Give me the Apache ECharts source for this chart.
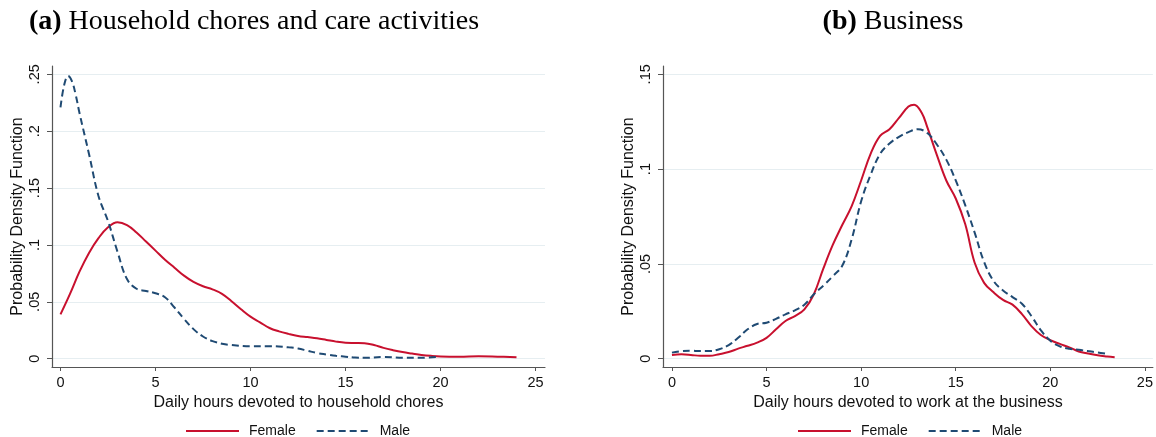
<!DOCTYPE html>
<html>
<head>
<meta charset="utf-8">
<script src="https://cdn.jsdelivr.net/npm/echarts@6/dist/echarts.min.js"></script>
<style>
html,body{margin:0;padding:0;background:#fff;}
#chart{width:1156px;height:437px;}
</style>
</head>
<body>
<div id="chart"></div>
<script>
// ---- Data ----
const titleA = "Household chores and care activities";
const titleB = "Business";
const xNameA = "Daily hours devoted to household chores";
const xNameB = "Daily hours devoted to work at the business";
const yName = "Probability Density Function";
const seriesNames = ["Female", "Male"];
const xTicks = [0, 5, 10, 15, 20, 25];
const yTicksA = [0, 0.05, 0.1, 0.15, 0.2, 0.25];
const yTicksB = [0, 0.05, 0.1, 0.15];

// Panel (a): household chores, [hours, density]
const choresFemale = [[0,0.039],[0.5,0.057],[1,0.0765],[1.5,0.093],[2,0.106],[2.5,0.1155],[3,0.120],[3.5,0.1175],[4,0.111],[4.5,0.103],[5,0.095],[5.5,0.087],[6,0.080],[6.5,0.073],[7,0.0675],[7.5,0.0637],[8,0.061],[8.5,0.057],[9,0.0505],[9.5,0.0435],[10,0.037],[10.5,0.032],[11,0.027],[11.5,0.024],[12,0.0218],[12.5,0.020],[13,0.019],[13.5,0.018],[14,0.0165],[14.5,0.015],[15,0.014],[15.5,0.0138],[16,0.0136],[16.5,0.012],[17,0.0095],[17.5,0.0075],[18,0.0058],[18.5,0.0045],[19,0.0033],[19.5,0.0025],[20,0.002],[21,0.0018],[22,0.0022],[23,0.0018],[24,0.0012]];
const choresMale = [[0,0.221],[0.2,0.241],[0.4,0.2485],[0.6,0.244],[0.8,0.232],[1,0.216],[1.5,0.180],[2,0.143],[2.5,0.121],[3,0.094],[3.5,0.070],[4,0.0615],[4.5,0.0595],[5,0.0575],[5.5,0.054],[6,0.045],[6.5,0.035],[7,0.026],[7.5,0.0195],[8,0.0155],[8.5,0.0132],[9,0.012],[10,0.011],[11,0.011],[12,0.0100],[12.5,0.009],[13,0.007],[13.5,0.005],[14,0.0037],[14.5,0.0025],[15,0.0018],[15.5,0.001],[16,0.0008],[17,0.0015],[18,0.0008],[19,0.0008],[19.8,0.0015]];

// Panel (b): business, [hours, density]
const businessFemale = [[0,0.002],[0.5,0.0023],[1,0.002],[1.5,0.0015],[2,0.0015],[2.5,0.0024],[3,0.0035],[3.5,0.0053],[4,0.0068],[4.5,0.0085],[5,0.011],[5.5,0.0155],[6,0.0199],[6.5,0.0225],[7,0.026],[7.5,0.034],[8,0.0475],[8.5,0.060],[9,0.0705],[9.5,0.0805],[10,0.094],[10.5,0.108],[11,0.1175],[11.5,0.121],[12,0.127],[12.5,0.133],[12.8,0.134],[13.2,0.1297],[13.5,0.122],[14,0.1075],[14.5,0.094],[15,0.0845],[15.5,0.071],[16,0.0506],[16.5,0.040],[17,0.035],[17.5,0.031],[18,0.0285],[18.5,0.0235],[19,0.0172],[19.5,0.0125],[20,0.0098],[20.5,0.0078],[21,0.006],[21.5,0.0038],[22,0.0027],[22.5,0.0018],[23,0.0012],[23.4,0.0008]];
const businessMale = [[0,0.0032],[0.5,0.004],[1,0.0042],[1.5,0.004],[2,0.004],[2.5,0.005],[3,0.0072],[3.5,0.011],[4,0.0155],[4.5,0.0183],[5,0.019],[5.5,0.021],[6,0.0234],[6.5,0.0255],[7,0.0285],[7.5,0.034],[8,0.0385],[8.5,0.0435],[9,0.049],[9.5,0.063],[10,0.083],[10.5,0.097],[11,0.108],[11.5,0.1135],[12,0.117],[12.5,0.1195],[13,0.121],[13.5,0.119],[14,0.113],[14.5,0.105],[15,0.094],[15.5,0.081],[16,0.0665],[16.5,0.051],[17,0.041],[17.5,0.036],[18,0.0325],[18.5,0.029],[19,0.0225],[19.5,0.015],[20,0.0095],[20.5,0.0065],[21,0.0052],[21.5,0.0047],[22,0.004],[22.5,0.0033],[23,0.0025]];

// ---- Styling ----
const RED = '#c8102e';
const BLUE = '#1f4a73';
const AXIS = '#555555';
const GRIDC = '#e6eef1';
const SANS = '"Liberation Sans", Arial, sans-serif';
const SERIF = '"Liberation Serif", "DejaVu Serif", serif';

function fmtY(v){
  if (Math.abs(v) < 1e-9) return '0';
  return String(Math.round(v*1000)/1000).replace(/^0\./, '.');
}

function xAxisDef(gridIndex, min, max, name){
  return {
    type: 'value', gridIndex, min, max, name,
    nameLocation: 'middle', nameGap: 21,
    nameTextStyle: {fontFamily: SANS, fontSize: 16, color: '#111'},
    axisLine: {show: true, onZero: false, lineStyle: {color: AXIS, width: 1.2}},
    axisTick: {show: true, length: 4, customValues: xTicks, lineStyle: {color: AXIS}},
    axisLabel: {customValues: xTicks, margin: 8, fontFamily: SANS, fontSize: 14.5, color: '#111'},
    splitLine: {show: false}
  };
}
function yAxisDef(gridIndex, min, max, ticks){
  return {
    type: 'value', gridIndex, min, max, name: yName,
    nameLocation: 'middle', nameGap: 26, nameRotate: 90,
    nameTextStyle: {fontFamily: SANS, fontSize: 16, color: '#111'},
    axisLine: {show: true, onZero: false, lineStyle: {color: AXIS, width: 1.2}},
    axisTick: {show: true, length: 5, customValues: ticks, lineStyle: {color: AXIS}},
    axisLabel: {customValues: ticks, rotate: 90, margin: 10, fontFamily: SANS, fontSize: 14.5, color: '#111', formatter: fmtY},
    splitLine: {show: true, lineStyle: {color: GRIDC, width: 1}}
  };
}
function lineSeries(name, data, idx, dashed){
  return {
    name, type: 'line', xAxisIndex: idx, yAxisIndex: idx, data,
    smooth: 0.4, symbol: 'none', showSymbol: false, silent: true,
    lineStyle: dashed ? {color: BLUE, width: 2, type: [7, 4]} : {color: RED, width: 2},
    itemStyle: {color: dashed ? BLUE : RED}
  };
}
function legendDef(left){
  return {
    left, top: 424, padding: 0, itemWidth: 53, itemHeight: 14, itemGap: 20,
    data: seriesNames, selectedMode: false,
    itemStyle: {opacity: 0},
    textStyle: {fontFamily: SANS, fontSize: 14, color: '#111', padding: [0,0,0,5]}
  };
}
function titleDef(left, label, text){
  return {
    left, top: 3, textAlign: 'center', text: '{b|' + label + '} ' + text,
    textStyle: {fontFamily: SERIF, fontSize: 28, fontWeight: 'normal', color: '#000',
      rich: {b: {fontFamily: SERIF, fontSize: 28, fontWeight: 'bold', color: '#000'}}}
  };
}

const chart = echarts.init(document.getElementById('chart'), null, {renderer: 'canvas'});
chart.setOption({
  animation: false,
  backgroundColor: '#fff',
  title: [titleDef(249, '(a)', titleA), titleDef(888, '(b)', titleB)],
  legend: [legendDef(185), legendDef(797)],
  grid: [
    {left: 52, top: 66, width: 493, height: 301, containLabel: false},
    {left: 663, top: 66, width: 493, height: 301, containLabel: false}
  ],
  xAxis: [
    xAxisDef(0, -0.447, 25.5, xNameA),
    xAxisDef(1, -0.473, 25.42, xNameB)
  ],
  yAxis: [
    yAxisDef(0, -0.0073, 0.2573, yTicksA),
    yAxisDef(1, -0.00438, 0.15438, yTicksB)
  ],
  series: [
    lineSeries(seriesNames[0], choresFemale, 0, false),
    lineSeries(seriesNames[1], choresMale, 0, true),
    lineSeries(seriesNames[0], businessFemale, 1, false),
    lineSeries(seriesNames[1], businessMale, 1, true)
  ]
});
</script>
</body>
</html>
